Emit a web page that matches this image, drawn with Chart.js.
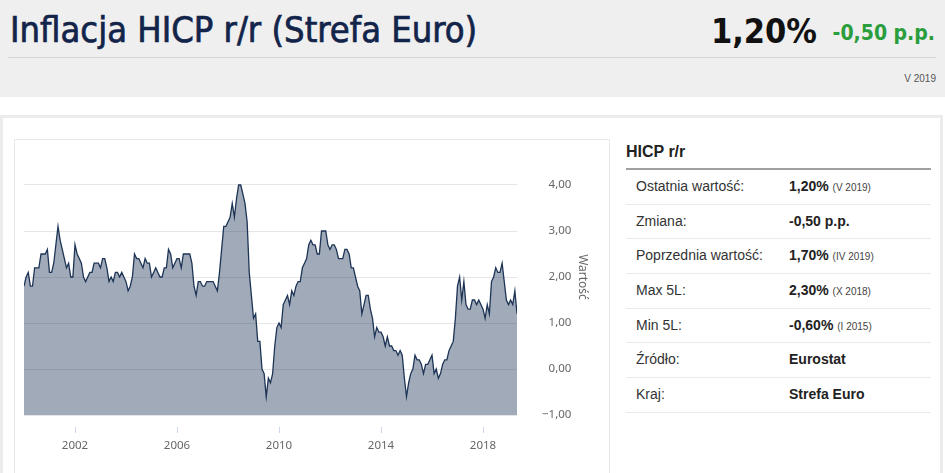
<!DOCTYPE html>
<html lang="pl">
<head>
<meta charset="utf-8">
<title>Inflacja HICP r/r (Strefa Euro)</title>
<script src="https://cdn.jsdelivr.net/npm/chart.js@4.4.1/dist/chart.umd.min.js"></script>
<style>
  html, body { margin: 0; padding: 0; background: #fff; width: 945px; height: 473px; overflow: hidden; }
  #head { position: absolute; left: 0; top: 0; width: 945px; height: 97px; background: #efefef; }
  #title { position: absolute; left: 10px; top: 10px; font: 36px/40px "DejaVu Sans Condensed", "DejaVu Sans"; color: #13244a; -webkit-text-stroke: 0.7px #13244a; white-space: nowrap; }
  #last { position: absolute; right: 128px; top: 12px; font: bold 34px/38px "DejaVu Sans Condensed", "DejaVu Sans"; color: #111; white-space: nowrap; }
  #chg { position: absolute; right: 10px; top: 21px; font: bold 21px/24px "DejaVu Sans Condensed", "DejaVu Sans"; color: #2a9d3c; white-space: nowrap; }
  #sep { position: absolute; left: 8px; top: 57px; width: 928px; height: 1px; background: #d4d4d4; }
  #period { position: absolute; right: 9px; top: 73px; font: 10px/12px "Liberation Sans", Arial; color: #555; }
  #panel { position: absolute; left: 0; top: 115px; width: 937px; height: 400px; border: 3px solid #ececec; border-bottom: none; }
  #chartbox { position: absolute; left: 14px; top: 139px; width: 594px; height: 400px; border: 1px solid #e8e8e8; border-bottom: none; }
  #chart { position: absolute; left: 14px; top: 139px; }
  #infohead { position: absolute; left: 626px; top: 143px; font: bold 16px/18px "Liberation Sans", Arial; color: #222; }
  #infoline { position: absolute; left: 626px; top: 168px; width: 305px; height: 2px; background: #a0a0a0; }
  #info { position: absolute; left: 626px; top: 170px; width: 305px; font: 14px "Liberation Sans", Arial; }
  .row { height: 33.7px; line-height: 33.7px; border-bottom: 1px solid #eaeaea; white-space: nowrap; }
  .lab { display: inline-block; width: 153px; padding-left: 10px; color: #333; }
  .val { display: inline-block; font-weight: bold; color: #222; }
  .val small { font-weight: normal; font-size: 10px; color: #444; }
</style>
</head>
<body>
<div id="head">
  <div id="title">Inflacja HICP r/r (Strefa Euro)</div>
  <div id="last">1,20%</div>
  <div id="chg">-0,50 p.p.</div>
  <div id="sep"></div>
  <div id="period">V 2019</div>
</div>
<div id="panel"></div>
<div id="chartbox"></div>
<canvas id="chart" width="596" height="334"></canvas>
<div id="infohead">HICP r/r</div>
<div id="infoline"></div>
<div id="info"></div>
<script>
// HICP r/r, strefa euro, miesięcznie od I 2000 do V 2019 (%)
const startYear = 2000;
const hicp = [
  1.8, 2.0, 2.1, 1.8, 1.8, 2.2, 2.2, 2.2, 2.5, 2.5, 2.5, 2.6,   // 2000
  2.1, 2.1, 2.3, 2.7, 3.1, 2.8, 2.6, 2.4, 2.2, 2.3, 2.0, 2.0,   // 2001
  2.7, 2.5, 2.4, 2.3, 2.0, 1.9, 2.0, 2.1, 2.1, 2.3, 2.3, 2.3,   // 2002
  2.2, 2.4, 2.4, 2.2, 1.9, 2.0, 1.9, 2.1, 2.1, 2.0, 2.1, 2.0,   // 2003
  1.9, 1.7, 1.8, 2.0, 2.5, 2.4, 2.4, 2.3, 2.2, 2.4, 2.3, 2.3,   // 2004
  2.0, 2.1, 2.2, 2.1, 2.0, 2.0, 2.2, 2.2, 2.6, 2.5, 2.2, 2.3,   // 2005
  2.4, 2.4, 2.2, 2.5, 2.5, 2.5, 2.5, 2.3, 1.8, 1.6, 1.9, 1.9,   // 2006
  1.8, 1.8, 1.9, 1.9, 1.9, 1.9, 1.8, 1.7, 2.1, 2.6, 3.1, 3.1,   // 2007
  3.2, 3.3, 3.6, 3.3, 3.7, 4.0, 4.0, 3.8, 3.6, 3.2, 2.1, 1.6,   // 2008
  1.1, 1.2, 0.6, 0.6, 0.0, -0.1, -0.6, -0.2, -0.3, -0.1, 0.5, 0.9, // 2009
  1.0, 0.9, 1.4, 1.5, 1.6, 1.4, 1.7, 1.6, 1.8, 1.9, 1.9, 2.2,   // 2010
  2.3, 2.4, 2.7, 2.8, 2.7, 2.7, 2.5, 2.5, 3.0, 3.0, 3.0, 2.7,   // 2011
  2.6, 2.7, 2.7, 2.6, 2.4, 2.4, 2.4, 2.6, 2.6, 2.5, 2.2, 2.2,   // 2012
  2.0, 1.8, 1.7, 1.2, 1.4, 1.6, 1.6, 1.3, 1.1, 0.7, 0.9, 0.8,   // 2013
  0.8, 0.7, 0.5, 0.7, 0.5, 0.5, 0.4, 0.4, 0.3, 0.4, 0.3, -0.2,  // 2014
  -0.6, -0.3, -0.1, 0.0, 0.3, 0.2, 0.2, 0.1, -0.1, 0.1, 0.1, 0.2, // 2015
  0.3, -0.1, 0.0, -0.2, -0.1, 0.1, 0.2, 0.2, 0.4, 0.5, 0.6, 1.1, // 2016
  1.8, 2.0, 1.5, 1.9, 1.4, 1.3, 1.3, 1.5, 1.5, 1.4, 1.5, 1.4,   // 2017
  1.3, 1.1, 1.4, 1.2, 1.9, 2.0, 2.2, 2.1, 2.1, 2.3, 1.9, 1.5,   // 2018
  1.4, 1.5, 1.4, 1.7, 1.2                                       // 2019
];
const xTickYears = [2002, 2006, 2010, 2014, 2018];
const yTickValues = [-1, 0, 1, 2, 3, 4];

const infoLabels = ['Ostatnia wartość:', 'Zmiana:', 'Poprzednia wartość:', 'Max 5L:', 'Min 5L:', 'Źródło:', 'Kraj:'];
const infoValues = ['1,20%', '-0,50 p.p.', '1,70%', '2,30%', '-0,60%', 'Eurostat', 'Strefa Euro'];
const infoDates = ['(V 2019)', '', '(IV 2019)', '(X 2018)', '(I 2015)', '', ''];

var info = document.getElementById('info');
infoLabels.forEach(function(lab, i) {
    var row = document.createElement('div');
    row.className = 'row';
    var date = infoDates[i] ? ' <small>' + infoDates[i] + '</small>' : '';
    row.innerHTML = '<span class="lab">' + lab + '</span><span class="val">' + infoValues[i] + date + '</span>';
    info.appendChild(row);
});

// "4,00" / "−1,00"; a figure space stands in for the minus so the labels line up on the right
function plNumber(v) {
    var s = Math.abs(v).toFixed(2).replace('.', ',');
    return (v < 0 ? '\u2212' : '\u2007') + s;
}

var points = hicp.map(function(v, i) { return { x: startYear + i / 12, y: v }; });
var tickFont = { family: 'Noto Sans', size: 11.5 };

var ctx = document.getElementById('chart').getContext('2d');
var chart = new Chart(ctx, {
    type: 'line',
    data: {
        datasets: [{
            label: 'HICP r/r',
            data: points,
            borderColor: '#1d3456',
            borderWidth: 1.3,
            backgroundColor: 'rgba(47, 67, 98, 0.45)',
            fill: 'start',
            pointRadius: 0,
            tension: 0
        }]
    },
    options: {
        responsive: false,
        animation: false,
        layout: { padding: { left: 10, top: 0, right: 17, bottom: 22 } },
        plugins: {
            legend: { display: false },
            tooltip: { enabled: false }
        },
        scales: {
            x: {
                type: 'linear',
                min: startYear,
                max: points[points.length - 1].x,
                afterBuildTicks: function(scale) {
                    scale.ticks = xTickYears.map(function(v) { return { value: v }; });
                },
                afterFit: function(scale) {
                    scale.height = 36;
                    scale.paddingLeft = 0;
                    scale.paddingRight = 0;
                },
                border: { display: false },
                grid: {
                    drawOnChartArea: false,
                    tickLength: 18,
                    tickColor: '#ccd6eb',
                    tickBorderDash: [0, 12, 6, 100]
                },
                ticks: {
                    padding: 6,
                    maxRotation: 0,
                    color: '#666',
                    font: tickFont,
                    callback: function(v) { return String(v); }
                }
            },
            y: {
                position: 'right',
                min: -1,
                max: 5,
                afterBuildTicks: function(scale) {
                    scale.ticks = yTickValues.map(function(v) { return { value: v }; });
                },
                afterFit: function(scale) {
                    // keep the plot top at the frame, labels need no extra room above
                    scale.width = 76;
                    scale.paddingTop = 0;
                    scale.paddingBottom = 0;
                },
                border: { display: false },
                grid: { color: '#e6e6e6', drawTicks: false },
                ticks: {
                    padding: 25,
                    crossAlign: 'near',
                    color: '#666',
                    font: tickFont,
                    callback: function(v) { return plNumber(v); }
                },
                title: {
                    display: true,
                    text: 'Wartość',
                    color: '#666',
                    font: { family: 'Noto Sans', size: 12 },
                    padding: { top: 3, bottom: 0 }
                }
            }
        }
    }
});
</script>
</body>
</html>
